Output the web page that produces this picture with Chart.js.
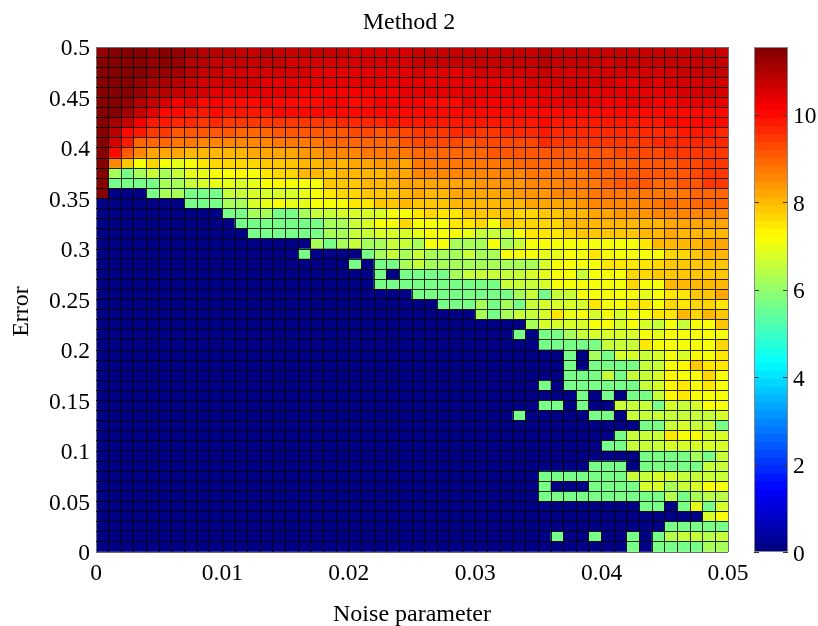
<!DOCTYPE html>
<html><head><meta charset="utf-8">
<script src="https://cdn.jsdelivr.net/npm/chart.js@4"></script>
<style>html,body{margin:0;padding:0;background:#fff;overflow:hidden}canvas{position:absolute;left:0;top:0}</style>
</head><body>
<canvas id="map" width="818" height="626"></canvas>
<canvas id="bar" width="818" height="626"></canvas>
<script>
const chartTitle = 'Method 2';
const xAxisTitle = 'Noise parameter';
const yAxisTitle = 'Error    ';
const xTickLabels = ['0','0.01','0.02','0.03','0.04','0.05'];
const yTickLabels = ['0','0.05','0.1','0.15','0.2','0.25','0.3','0.35','0.4','0.45','0.5'];
const colorbarTicks = [0,2,4,6,8,10];
const colorMax = 11.55;
const noiseStep = 0.001;
const errorStep = 0.01;
// Rows run from the top of the picture (error 0.49-0.50) to the bottom; 50 noise columns each.
const cellValues = [
[11.3,11.4,11.5,11.5,11.3,11.4,11.2,11.1,11.0,10.9, 10.9,10.8,10.8,10.9,10.8,10.7,10.7,10.7,10.7,10.7, 10.6,10.6,10.6,10.6,10.6,10.7,10.7,10.8,10.7,10.7, 10.8,10.7,10.7,10.8,10.8,10.9,10.8,10.8,10.7,10.7, 10.7,10.7,10.7,10.8,10.7,10.8,10.8,10.8,10.8,10.8],
[11.4,11.4,11.5,11.5,11.3,11.4,11.2,11.0,10.9,10.8, 10.8,10.7,10.7,10.7,10.7,10.6,10.6,10.6,10.5,10.5, 10.5,10.5,10.5,10.5,10.6,10.7,10.7,10.7,10.7,10.7, 10.7,10.7,10.7,10.8,10.8,10.9,10.7,10.7,10.7,10.7, 10.6,10.7,10.7,10.7,10.7,10.8,10.8,10.7,10.8,10.8],
[11.4,11.4,11.5,11.4,11.2,11.3,11.1,10.9,10.8,10.7, 10.6,10.6,10.6,10.5,10.5,10.5,10.5,10.4,10.4,10.4, 10.4,10.4,10.4,10.4,10.4,10.5,10.4,10.4,10.4,10.4, 10.5,10.5,10.5,10.6,10.6,10.7,10.6,10.5,10.6,10.5, 10.5,10.5,10.5,10.5,10.6,10.6,10.7,10.7,10.7,10.7],
[11.4,11.4,11.5,11.3,11.1,11.1,10.9,10.8,10.6,10.6, 10.5,10.5,10.5,10.4,10.4,10.4,10.4,10.3,10.3,10.3, 10.3,10.3,10.3,10.3,10.4,10.4,10.4,10.4,10.4,10.3, 10.4,10.4,10.4,10.4,10.5,10.6,10.5,10.5,10.5,10.5, 10.6,10.4,10.4,10.5,10.4,10.5,10.5,10.5,10.6,10.6],
[11.4,11.4,11.4,11.2,11.0,11.0,10.7,10.5,10.5,10.4, 10.3,10.3,10.3,10.3,10.3,10.3,10.2,10.2,10.2,10.2, 10.2,10.2,10.2,10.2,10.3,10.3,10.3,10.3,10.3,10.3, 10.3,10.3,10.3,10.3,10.4,10.4,10.4,10.5,10.5,10.4, 10.4,10.4,10.4,10.4,10.4,10.4,10.5,10.5,10.5,10.5],
[11.4,11.4,11.2,11.0,10.8,10.6,10.2,10.3,10.1,10.2, 10.1,10.1,10.1,10.2,10.1,10.1,10.1,10.1,10.2,10.2, 10.1,10.1,10.2,10.2,10.2,10.2,10.1,10.1,10.1,10.3, 10.2,10.2,10.2,10.2,10.2,10.3,10.3,10.3,10.3,10.3, 10.2,10.2,10.3,10.3,10.2,10.2,10.3,10.3,10.3,10.3],
[11.4,11.4,11.1,10.7,10.4,10.1,9.95,9.9,9.9,9.95, 9.9,9.85,9.9,9.9,9.95,9.95,9.95,10.0,10.0,10.0, 10.0,10.0,10.0,10.0,10.0,10.1,10.1,10.1,10.1,10.1, 10.1,10.1,10.1,10.1,10.1,10.1,10.1,10.1,10.1,10.1, 10.1,10.1,10.1,10.1,10.1,10.1,10.1,10.1,10.1,10.1],
[11.4,11.1,10.7,10.2,9.9,9.9,9.6,9.6,9.55,9.6, 9.5,9.4,9.4,9.4,9.4,9.4,9.5,9.5,9.5,9.6, 9.7,9.7,9.7,9.8,9.8,9.9,9.9,9.9,9.9,9.9, 9.9,9.9,9.9,9.9,9.9,10.0,9.9,9.9,9.9,9.9, 9.9,9.9,9.9,9.9,9.9,10.0,10.0,10.0,10.0,10.0],
[11.4,10.9,10.1,9.9,9.4,9.4,9.1,9.1,9.1,9.05, 9.1,9.0,8.9,8.9,9.1,9.1,9.1,9.2,9.2,9.2, 9.3,9.3,9.2,9.3,9.3,9.5,9.5,9.5,9.6,9.6, 9.55,9.55,9.6,9.6,9.6,9.8,9.7,9.7,9.7,9.7, 9.7,9.7,9.7,9.7,9.7,9.7,9.8,9.8,9.8,9.7],
[11.4,10.6,9.8,9.0,8.9,8.9,8.7,8.8,8.6,8.6, 8.6,8.55,8.5,8.5,8.7,8.7,8.8,8.8,8.9,8.9, 9.0,9.0,9.0,9.0,9.1,9.3,9.3,9.3,9.3,9.2, 9.3,9.3,9.3,9.3,9.3,9.6,9.5,9.5,9.5,9.5, 9.5,9.5,9.5,9.5,9.6,9.6,9.6,9.6,9.6,9.6],
[11.4,10.1,9.1,8.5,8.3,8.2,8.15,8.1,8.1,8.1, 8.1,8.1,8.2,8.2,8.3,8.3,8.4,8.4,8.5,8.5, 8.6,8.7,8.7,8.7,8.8,9.0,9.0,9.0,9.0,9.0, 9.0,9.1,9.1,9.1,9.1,9.2,9.2,9.2,9.2,9.2, 9.2,9.3,9.3,9.3,9.3,9.4,9.4,9.4,9.4,9.4],
[11.4,8.6,7.8,7.05,7.6,7.05,7.0,7.2,7.5,7.6, 7.7,7.7,7.7,7.8,7.9,7.8,8.0,8.0,8.2,8.1, 8.2,8.2,8.4,8.4,8.3,8.8,8.8,8.8,8.8,8.8, 8.7,8.7,8.8,8.9,8.9,9.0,9.0,9.0,9.1,9.1, 9.1,9.0,9.1,9.1,9.1,9.2,9.3,9.3,9.4,9.4],
[11.4,6.25,5.6,6.25,6.6,6.25,6.6,6.9,7.0,7.1, 7.2,7.3,7.2,7.4,7.6,7.7,8.0,8.0,7.9,8.0, 8.1,8.1,8.1,8.3,8.2,8.5,8.5,8.5,8.5,8.5, 8.5,8.6,8.6,8.6,8.7,8.8,8.8,8.8,8.8,8.9, 8.9,9.1,9.1,9.1,9.1,9.1,9.2,9.3,9.5,9.4],
[11.4,5.6,5.6,5.6,5.6,6.25,6.25,6.5,6.7,6.9, 7.0,6.7,6.9,7.1,7.3,7.2,7.2,7.2,7.8,7.9, 7.9,8.0,8.0,8.0,8.2,8.3,8.3,8.3,8.3,8.3, 8.4,8.4,8.4,8.4,8.5,8.6,8.6,8.7,8.7,8.8, 8.9,9.1,9.1,9.1,9.0,9.0,9.1,9.2,9.4,9.4],
[11.4,0,0,0,5.6,6.25,6.25,5.6,5.6,5.6, 6.6,6.6,6.7,6.8,6.8,6.8,7.0,7.05,7.5,7.6, 7.7,7.9,7.9,7.9,8.0,8.2,8.1,8.1,8.2,8.3, 8.3,8.2,8.3,8.4,8.4,8.4,8.5,8.5,8.5,8.7, 8.7,8.7,8.7,8.7,8.8,8.8,8.8,8.9,9.0,9.0],
[0,0,0,0,0,0,0,5.6,5.6,5.6, 6.25,6.25,6.8,7.0,7.05,7.0,7.0,7.05,7.2,7.2, 7.5,7.5,7.8,7.9,8.0,7.9,7.9,7.9,8.0,8.0, 8.0,8.0,8.0,8.1,8.2,8.3,8.3,8.3,8.4,8.5, 8.5,8.5,8.6,8.6,8.7,8.9,8.8,8.9,9.0,8.9],
[0,0,0,0,0,0,0,0,0,0, 5.6,5.6,6.25,6.25,5.6,5.6,6.25,6.5,6.6,6.8, 6.8,6.8,6.7,7.1,7.2,7.4,7.6,7.5,7.5,7.8, 7.8,7.8,7.8,7.7,7.7,7.8,7.9,8.0,8.1,8.2, 8.3,8.4,8.4,8.4,8.5,8.6,8.6,8.6,8.6,8.5],
[0,0,0,0,0,0,0,0,0,0, 0,5.6,5.6,5.6,5.6,5.6,5.6,5.6,6.25,6.25, 6.6,6.8,7.05,7.2,7.6,7.05,7.2,7.2,7.4,7.4, 7.6,7.2,7.8,7.7,7.7,7.7,7.7,8.0,8.1,8.1, 8.1,8.1,8.1,8.1,8.1,8.2,8.3,8.3,8.3,8.3],
[0,0,0,0,0,0,0,0,0,0, 0,0,5.6,5.6,5.6,5.6,5.6,5.6,6.25,6.25, 6.5,6.6,6.7,6.7,6.8,6.9,7.05,7.05,7.05,6.9, 6.6,6.6,6.5,7.2,7.4,7.5,7.4,7.7,7.8,7.8, 7.9,7.9,7.9,8.0,8.0,8.2,8.1,8.1,8.1,8.1],
[0,0,0,0,0,0,0,0,0,0, 0,0,0,0,0,0,0,6.25,5.6,6.25, 6.5,6.25,6.25,6.5,6.5,6.25,7.05,7.05,6.25,6.25, 6.25,7.05,6.25,6.6,7.05,7.05,7.05,7.05,7.2,7.05, 7.2,7.2,7.2,7.4,7.95,8.05,7.95,7.95,8.15,8.15],
[0,0,0,0,0,0,0,0,0,0, 0,0,0,0,0,0,5.6,0,0,0, 0,5.6,6.25,6.5,6.25,6.5,6.25,6.25,6.25,6.6, 6.25,6.25,7.05,7.05,7.05,6.9,6.9,7.05,7.05,7.4, 7.2,7.2,7.2,7.2,7.2,7.6,7.6,7.8,7.95,7.95],
[0,0,0,0,0,0,0,0,0,0, 0,0,0,0,0,0,0,0,0,0, 5.6,0,5.6,5.6,6.25,6.5,6.25,6.25,6.25,6.25, 6.25,6.25,6.25,6.25,6.25,6.8,7.05,7.05,7.05,7.2, 7.5,7.5,7.5,7.5,7.6,7.8,7.8,7.9,7.9,7.9],
[0,0,0,0,0,0,0,0,0,0, 0,0,0,0,0,0,0,0,0,0, 0,0,5.6,0,5.6,5.6,5.6,5.6,6.25,6.5, 6.5,6.5,6.5,6.6,6.7,6.9,7.05,7.05,6.5,7.2, 7.2,7.2,7.6,7.7,7.85,7.9,7.9,7.9,7.9,7.9],
[0,0,0,0,0,0,0,0,0,0, 0,0,0,0,0,0,0,0,0,0, 0,0,5.6,5.6,5.6,5.6,5.6,5.6,5.6,5.6, 5.6,5.6,6.5,6.6,6.6,6.8,7.2,7.05,7.2,7.05, 7.05,7.2,7.6,7.05,7.2,7.95,8.0,8.0,8.0,8.0],
[0,0,0,0,0,0,0,0,0,0, 0,0,0,0,0,0,0,0,0,0, 0,0,0,0,0,5.6,5.6,5.6,5.6,5.6, 5.6,5.6,5.6,6.25,6.5,5.6,6.5,6.5,7.05,7.05, 7.05,7.05,7.05,6.95,7.2,7.5,7.5,7.85,7.85,8.15],
[0,0,0,0,0,0,0,0,0,0, 0,0,0,0,0,0,0,0,0,0, 0,0,0,0,0,0,0,5.6,5.6,5.6, 6.25,5.6,6.25,5.6,6.6,6.8,6.8,6.8,6.8,7.4, 7.05,7.05,7.5,7.4,7.2,7.6,7.5,7.6,7.6,7.4],
[0,0,0,0,0,0,0,0,0,0, 0,0,0,0,0,0,0,0,0,0, 0,0,0,0,0,0,0,0,0,0, 6.25,5.6,6.25,6.5,6.5,6.7,7.4,6.95,7.2,6.7, 7.05,6.8,7.05,7.05,7.5,7.4,7.95,7.7,7.95,7.8],
[0,0,0,0,0,0,0,0,0,0, 0,0,0,0,0,0,0,0,0,0, 0,0,0,0,0,0,0,0,0,0, 0,0,0,0,6.25,6.8,6.7,6.7,6.8,7.05, 7.05,6.8,7.05,6.7,6.6,7.05,6.5,7.2,7.2,7.8],
[0,0,0,0,0,0,0,0,0,0, 0,0,0,0,0,0,0,0,0,0, 0,0,0,0,0,0,0,0,0,0, 0,0,0,5.6,0,5.6,5.6,6.25,6.5,6.7, 6.8,6.8,6.8,7.05,6.95,7.05,7.2,7.2,7.2,7.2],
[0,0,0,0,0,0,0,0,0,0, 0,0,0,0,0,0,0,0,0,0, 0,0,0,0,0,0,0,0,0,0, 0,0,0,0,0,5.6,5.6,5.6,5.6,5.6, 6.5,6.6,6.6,7.4,7.05,7.2,7.2,7.2,7.2,7.6],
[0,0,0,0,0,0,0,0,0,0, 0,0,0,0,0,0,0,0,0,0, 0,0,0,0,0,0,0,0,0,0, 0,0,0,0,0,0,0,5.6,0,6.25, 5.6,6.7,6.8,6.5,6.7,7.2,6.8,7.2,7.05,7.55],
[0,0,0,0,0,0,0,0,0,0, 0,0,0,0,0,0,0,0,0,0, 0,0,0,0,0,0,0,0,0,0, 0,0,0,0,0,0,0,5.6,0,5.6, 5.6,5.6,5.6,6.5,6.6,7.2,7.3,7.85,7.4,7.45],
[0,0,0,0,0,0,0,0,0,0, 0,0,0,0,0,0,0,0,0,0, 0,0,0,0,0,0,0,0,0,0, 0,0,0,0,0,0,0,5.6,5.6,5.6, 6.5,5.6,6.5,6.6,6.7,7.3,7.2,7.2,7.6,7.05],
[0,0,0,0,0,0,0,0,0,0, 0,0,0,0,0,0,0,0,0,0, 0,0,0,0,0,0,0,0,0,0, 0,0,0,0,0,5.6,0,5.6,5.6,5.6, 5.6,5.6,5.6,6.5,6.8,7.3,7.4,7.05,7.4,7.2],
[0,0,0,0,0,0,0,0,0,0, 0,0,0,0,0,0,0,0,0,0, 0,0,0,0,0,0,0,0,0,0, 0,0,0,0,0,0,0,0,5.6,0, 5.6,0,5.6,5.6,6.5,7.3,7.4,7.05,7.05,7.2],
[0,0,0,0,0,0,0,0,0,0, 0,0,0,0,0,0,0,0,0,0, 0,0,0,0,0,0,0,0,0,0, 0,0,0,0,0,5.6,5.6,0,5.6,0, 0,6.5,6.5,6.5,5.7,6.8,6.5,6.8,7.05,7.05],
[0,0,0,0,0,0,0,0,0,0, 0,0,0,0,0,0,0,0,0,0, 0,0,0,0,0,0,0,0,0,0, 0,0,0,5.6,0,0,0,0,0,5.6, 5.6,0,6.5,6.5,6.5,6.6,6.6,6.5,6.6,6.7],
[0,0,0,0,0,0,0,0,0,0, 0,0,0,0,0,0,0,0,0,0, 0,0,0,0,0,0,0,0,0,0, 0,0,0,0,0,0,0,0,0,0, 0,0,0,5.6,5.6,6.5,6.7,6.5,6.6,5.6],
[0,0,0,0,0,0,0,0,0,0, 0,0,0,0,0,0,0,0,0,0, 0,0,0,0,0,0,0,0,0,0, 0,0,0,0,0,0,0,0,0,0, 0,5.6,6.5,6.5,6.6,7.4,7.05,7.2,6.7,6.7],
[0,0,0,0,0,0,0,0,0,0, 0,0,0,0,0,0,0,0,0,0, 0,0,0,0,0,0,0,0,0,0, 0,0,0,0,0,0,0,0,0,0, 5.6,5.6,6.5,6.5,6.5,6.8,6.7,6.7,6.7,6.7],
[0,0,0,0,0,0,0,0,0,0, 0,0,0,0,0,0,0,0,0,0, 0,0,0,0,0,0,0,0,0,0, 0,0,0,0,0,0,0,0,0,0, 0,0,0,5.6,5.6,5.6,5.6,6.25,5.6,6.6],
[0,0,0,0,0,0,0,0,0,0, 0,0,0,0,0,0,0,0,0,0, 0,0,0,0,0,0,0,0,0,0, 0,0,0,0,0,0,0,0,0,5.6, 5.6,5.6,0,5.6,5.6,5.6,5.6,5.6,6.5,6.5],
[0,0,0,0,0,0,0,0,0,0, 0,0,0,0,0,0,0,0,0,0, 0,0,0,0,0,0,0,0,0,0, 0,0,0,0,0,5.6,5.6,5.6,5.6,5.6, 5.6,5.6,6.5,6.5,6.7,6.8,6.5,6.6,6.5,6.5],
[0,0,0,0,0,0,0,0,0,0, 0,0,0,0,0,0,0,0,0,0, 0,0,0,0,0,0,0,0,0,0, 0,0,0,0,0,5.6,0,0,0,5.6, 5.6,5.6,5.6,6.7,6.8,6.25,6.5,6.7,7.05,7.05],
[0,0,0,0,0,0,0,0,0,0, 0,0,0,0,0,0,0,0,0,0, 0,0,0,0,0,0,0,0,0,0, 0,0,0,0,0,5.6,5.6,5.6,5.6,5.6, 5.6,5.6,5.6,5.6,5.6,6.4,5.6,6.25,6.4,6.4],
[0,0,0,0,0,0,0,0,0,0, 0,0,0,0,0,0,0,0,0,0, 0,0,0,0,0,0,0,0,0,0, 0,0,0,0,0,0,0,0,0,0, 0,0,0,5.6,5.6,0,5.6,6.95,5.6,6.7],
[0,0,0,0,0,0,0,0,0,0, 0,0,0,0,0,0,0,0,0,0, 0,0,0,0,0,0,0,0,0,0, 0,0,0,0,0,0,0,0,0,0, 0,0,0,0,0,0,0,0,6.7,7.05],
[0,0,0,0,0,0,0,0,0,0, 0,0,0,0,0,0,0,0,0,0, 0,0,0,0,0,0,0,0,0,0, 0,0,0,0,0,0,0,0,0,0, 0,0,0,0,0,5.6,5.6,5.6,5.6,5.6],
[0,0,0,0,0,0,0,0,0,0, 0,0,0,0,0,0,0,0,0,0, 0,0,0,0,0,0,0,0,0,0, 0,0,0,0,0,0,5.6,0,0,5.6, 0,0,5.6,0,5.6,6.4,6.5,6.5,6.4,6.5],
[0,0,0,0,0,0,0,0,0,0, 0,0,0,0,0,0,0,0,0,0, 0,0,0,0,0,0,0,0,0,0, 0,0,0,0,0,0,0,0,0,0, 0,0,5.6,0,5.6,5.6,5.6,5.6,6.25,6.25]
];

const serif = 'Liberation Serif';
const tickFont = {family: serif, size: 23.5};
const titleFont = {family: serif, size: 24, lineHeight: 1};
const clamp01 = v => Math.max(0, Math.min(1, v));
function jet(v) {
  const level = Math.min(63, Math.floor(v / colorMax * 64));
  const t = (level + 0.5) / 64;
  const r = clamp01(Math.min(4 * t - 1.5, 4.5 - 4 * t));
  const g = clamp01(Math.min(4 * t - 0.5, 3.5 - 4 * t));
  const b = clamp01(Math.min(4 * t + 0.5, 2.5 - 4 * t));
  return `rgb(${Math.round(r * 255)},${Math.round(g * 255)},${Math.round(b * 255)})`;
}
const gridColor = ctx => (ctx.index === 0 || ctx.index === 50) ? 'rgb(110,110,110)' : 'rgba(0,0,0,0.85)';

const cells = [];
cellValues.forEach((row, r) => row.forEach((v, c) => {
  const top = 0.5 - r * errorStep;
  cells.push({x: (c + 0.5) * noiseStep, y: [top - errorStep, top], v});
}));

new Chart(document.getElementById('map'), {
  type: 'bar',
  data: {datasets: [{data: cells, backgroundColor: ctx => jet(ctx.raw.v), borderWidth: 0,
    barPercentage: 1, categoryPercentage: 1}]},
  options: {
    responsive: false, animation: false, events: [],
    layout: {padding: 0},
    plugins: {
      legend: {display: false}, tooltip: {enabled: false},
      title: {display: true, text: chartTitle, color: '#000', font: {family: serif, size: 24, weight: 'normal', lineHeight: 1.2},
        padding: {top: 8, bottom: 10.2}}
    },
    scales: {
      x: {
        type: 'linear', min: 0, max: 0.05, offset: false,
        afterFit: s => { s.height = 74; },
        grid: {offset: false, z: 1, drawTicks: false, color: gridColor, lineWidth: 1},
        border: {display: false},
        ticks: {stepSize: noiseStep, autoSkip: false, maxRotation: 0, minRotation: 0, padding: 8, color: '#000', font: tickFont,
          callback: v => { const i = Math.round(v / noiseStep); return i % 10 ? '' : xTickLabels[i / 10]; }},
        title: {display: true, text: xAxisTitle, color: '#000', font: titleFont, padding: {top: 0, bottom: -1}}
      },
      y: {
        min: 0, max: 0.5,
        afterFit: s => { s.width = 96; },
        grid: {z: 1, drawTicks: false, color: gridColor, lineWidth: 1},
        border: {display: false},
        ticks: {stepSize: errorStep, autoSkip: false, padding: 6, labelOffset: 2, color: '#000', font: tickFont,
          callback: v => { const i = Math.round(v / errorStep); return i % 5 ? '' : yTickLabels[i / 5]; }},
        title: {display: true, text: yAxisTitle, color: '#000', font: titleFont, padding: {top: 10, bottom: 10}}
      },
      gutter: {
        position: 'right', axis: 'y', min: 0, max: 1,
        afterFit: s => { s.width = 90; },
        grid: {display: false, drawTicks: false}, border: {display: false}, ticks: {display: false}
      }
    }
  }
});

const colorLevels = Array.from({length: 64}, (_, i) => i);
const tickMarks = {
  id: 'tickMarks',
  afterDraw(chart) {
    const {ctx, chartArea: a, scales: {y}} = chart;
    ctx.save();
    ctx.strokeStyle = '#333';
    ctx.lineWidth = 1;
    ctx.beginPath();
    y.ticks.forEach(t => {
      const p = Math.round(y.getPixelForValue(t.value)) + 0.5;
      ctx.moveTo(a.left, p); ctx.lineTo(a.left + 5, p);
      ctx.moveTo(a.right, p); ctx.lineTo(a.right - 5, p);
    });
    ctx.stroke();
    ctx.strokeStyle = '#888';
    ctx.strokeRect(Math.round(a.left) + 0.5, Math.round(a.top) + 0.5, Math.round(a.width) - 1, Math.round(a.height) - 1);
    ctx.restore();
  }
};
new Chart(document.getElementById('bar'), {
  type: 'bar',
  plugins: [tickMarks],
  data: {
    labels: ['c'],
    datasets: [{
      data: colorLevels.map(i => ({x: 'c', y: [i * colorMax / 64, Math.min(colorMax, (i + 1) * colorMax / 64 + 0.02)], v: (i + 0.5) * colorMax / 64})),
      backgroundColor: ctx => jet(ctx.raw.v), borderWidth: 0, barPercentage: 1, categoryPercentage: 1
    }]
  },
  options: {
    responsive: false, animation: false, events: [],
    layout: {padding: {left: 754, right: 0, top: 47, bottom: 74}},
    plugins: {legend: {display: false}, tooltip: {enabled: false}},
    scales: {
      x: {display: false},
      y: {
        position: 'right', min: 0, max: colorMax,
        afterFit: s => { s.width = 30; },
        afterBuildTicks: s => { s.ticks = colorbarTicks.map(value => ({value})); },
        grid: {display: false, drawTicks: false}, border: {display: false},
        ticks: {padding: 5, labelOffset: 2.5, color: '#000', font: tickFont}
      }
    }
  }
});
</script>
</body></html>
